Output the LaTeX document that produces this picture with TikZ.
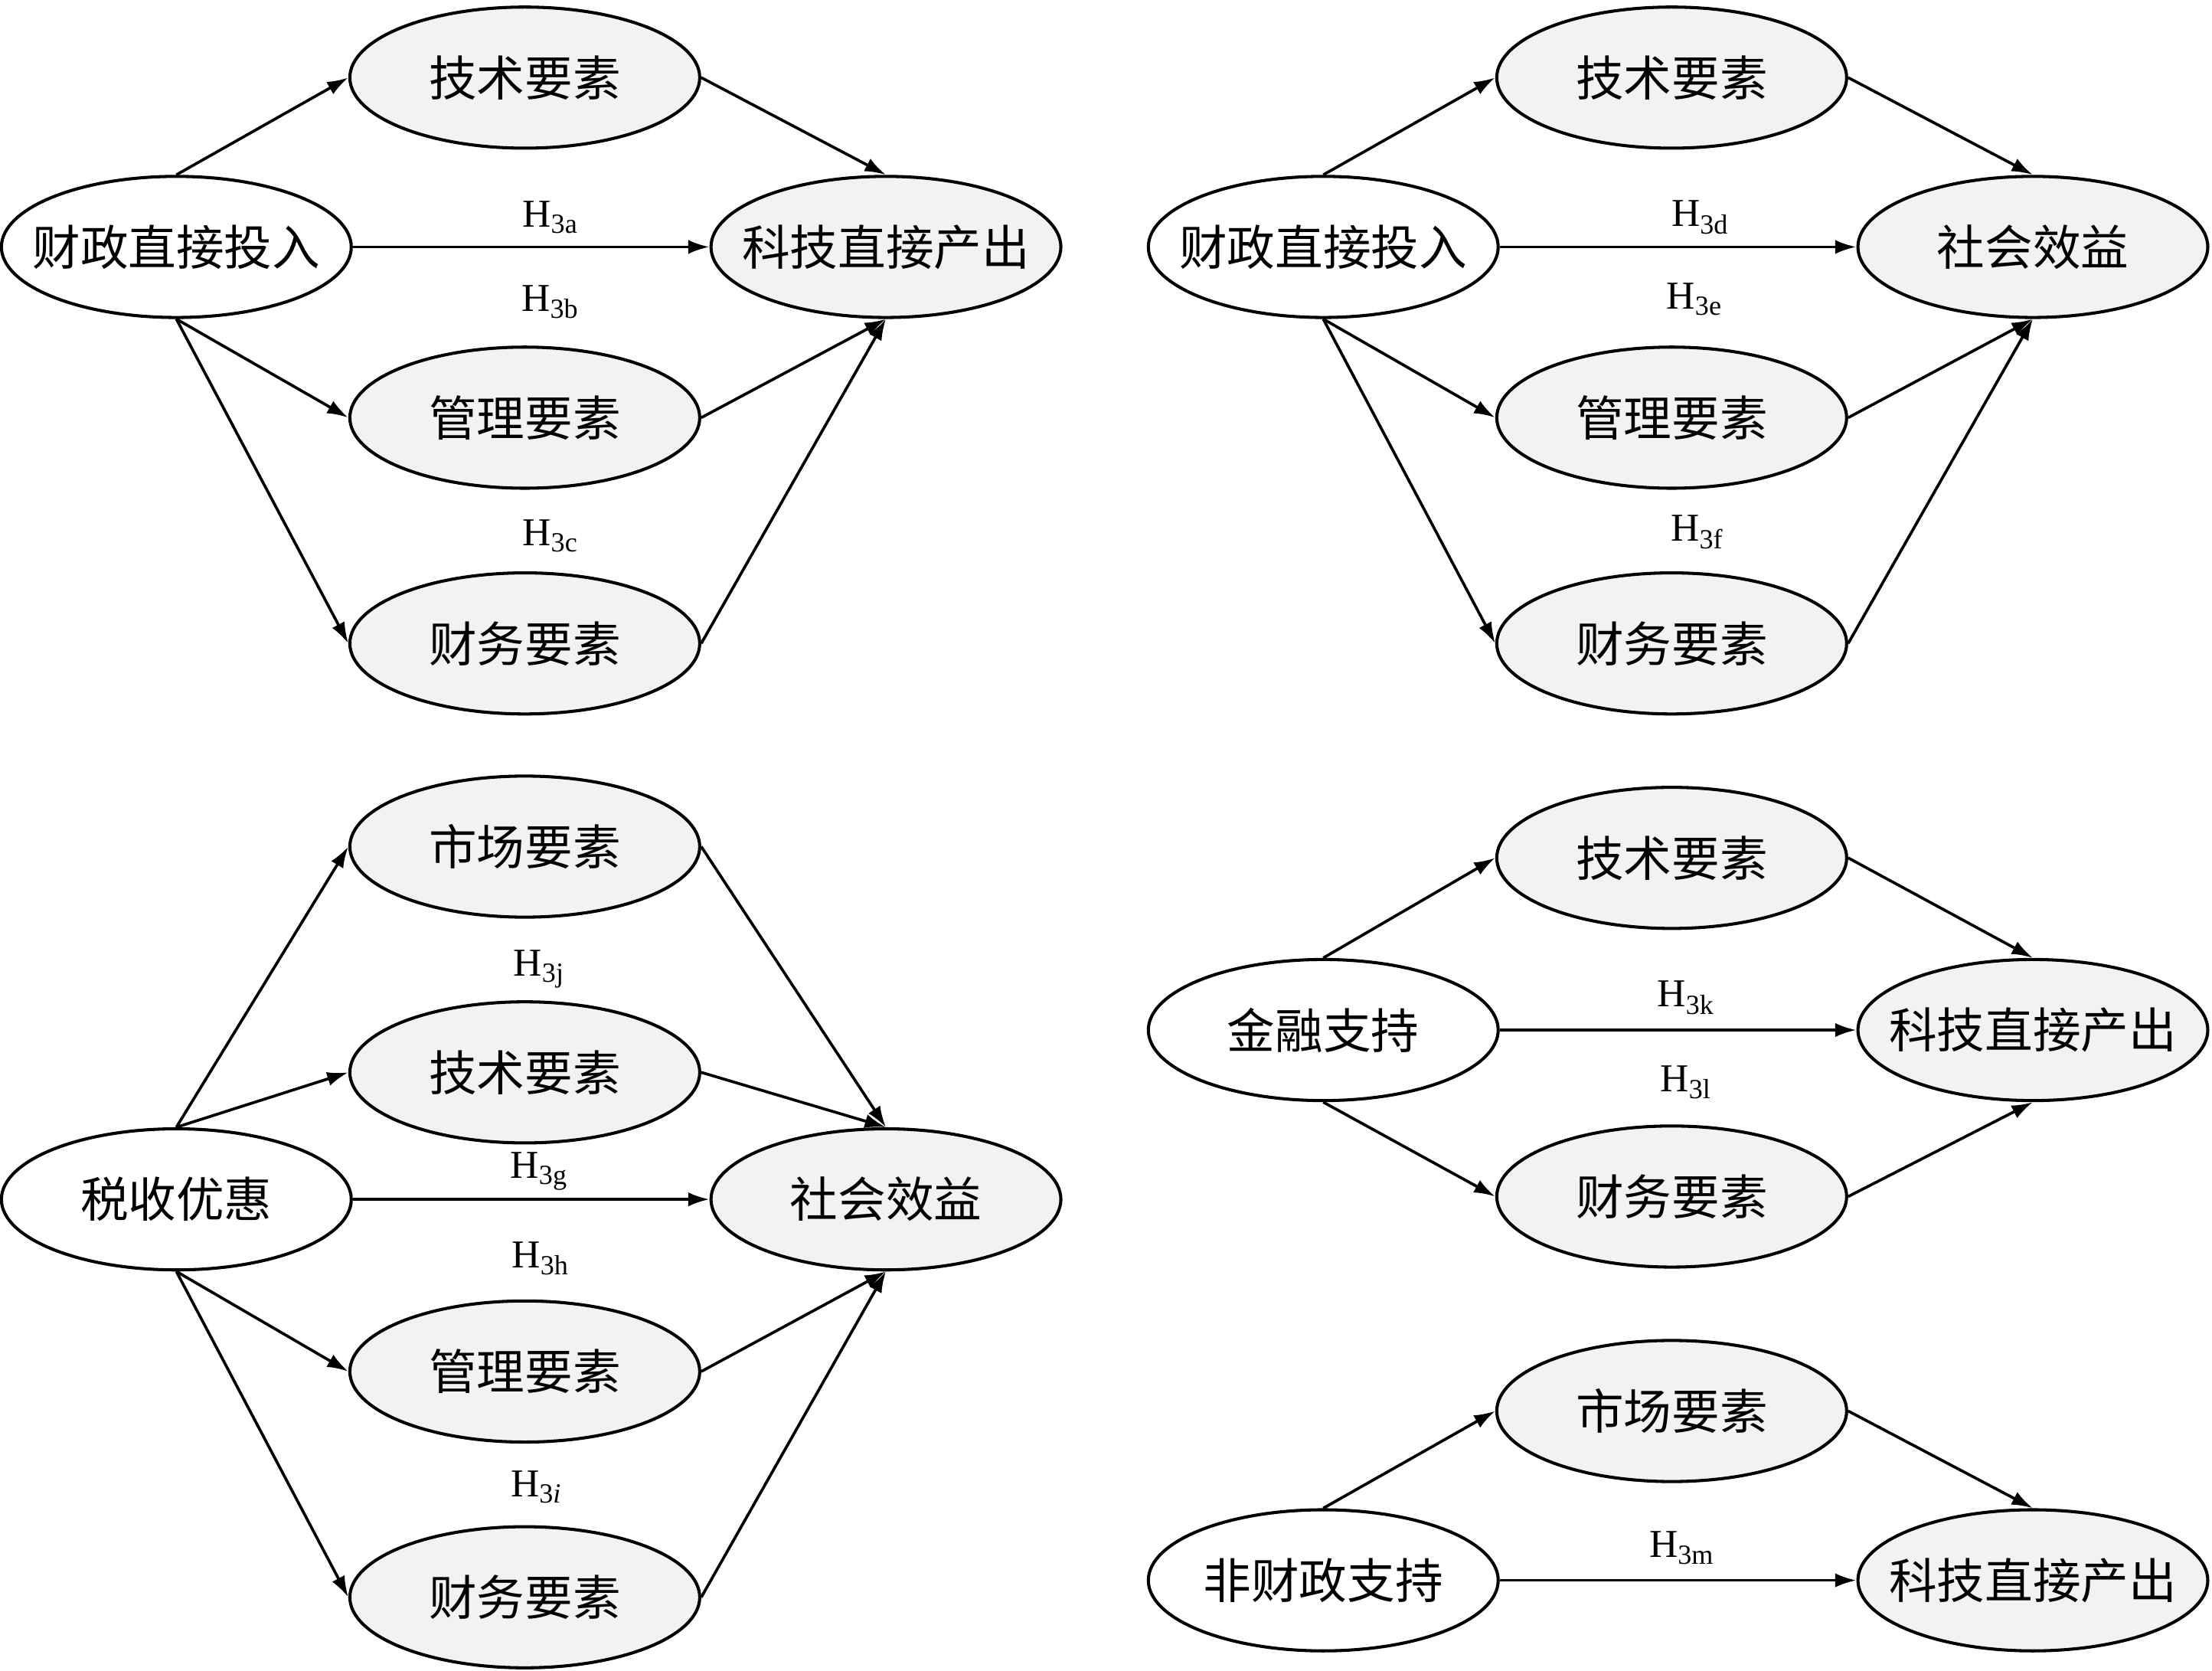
\documentclass[tikz,border=0pt]{standalone}
\usepackage{fontspec}
\setmainfont{Liberation Serif}
\newfontfamily\cjk{Noto Sans CJK SC}
\usetikzlibrary{shapes.geometric,arrows.meta}
\definecolor{nodegray}{HTML}{F2F2F2}
\newcommand{\zt}[1]{\makebox[0pt]{#1}}
\tikzset{
  el/.style={ellipse,draw,line width=2.2pt,minimum width=248pt,minimum height=100pt,inner sep=0pt,font=\cjk\fontsize{34}{38}\selectfont},
  src/.style={el,fill=white},
  tgt/.style={el,fill=nodegray},
  arr/.style={line width=2pt,-{Latex[length=15pt,width=10pt]}},
  hl/.style={font=\fontsize{28}{32}\selectfont,inner sep=0pt}
}
\begin{document}
\begin{tikzpicture}[x=1pt,y=-1pt]
\useasboundingbox (0,0) rectangle (1568,1184);
% Panel 1
\node[src] (a0) at (125,175) {\zt{财政直接投入}};
\node[tgt] (a1) at (372,55) {\zt{技术要素}};
\node[tgt] (a2) at (372,296) {\zt{管理要素}};
\node[tgt] (a3) at (372,456) {\zt{财务要素}};
\node[tgt] (a4) at (628,175) {\zt{科技直接产出}};
\draw[arr] (a0.north) -- (a1.west);
\draw[arr] (a0.east) -- (a4.west);
\draw[arr] (a0.south) -- (a2.west);
\draw[arr] (a0.south) -- (a3.west);
\draw[arr] (a1.east) -- (a4.north);
\draw[arr] (a2.east) -- (a4.south);
\draw[arr] (a3.east) -- (a4.south);
\node[hl] (la) at (390,154) {H\textsubscript{3a}};
\node[hl] (lb) at (390,214) {H\textsubscript{3b}};
\node[hl] (lc) at (390,380) {H\textsubscript{3c}};
% Panel 2
\node[src] (b0) at (938,175) {\zt{财政直接投入}};
\node[tgt] (b1) at (1185,55) {\zt{技术要素}};
\node[tgt] (b2) at (1185,296) {\zt{管理要素}};
\node[tgt] (b3) at (1185,456) {\zt{财务要素}};
\node[tgt] (b4) at (1441,175) {\zt{社会效益}};
\draw[arr] (b0.north) -- (b1.west);
\draw[arr] (b0.east) -- (b4.west);
\draw[arr] (b0.south) -- (b2.west);
\draw[arr] (b0.south) -- (b3.west);
\draw[arr] (b1.east) -- (b4.north);
\draw[arr] (b2.east) -- (b4.south);
\draw[arr] (b3.east) -- (b4.south);
\node[hl] (ld) at (1205,154) {H\textsubscript{3d}};
\node[hl] (le) at (1201,212) {H\textsubscript{3e}};
\node[hl] (lf) at (1203,377) {H\textsubscript{3f}};
% Panel 3
\node[src] (c0) at (125,850) {\zt{税收优惠}};
\node[tgt] (c1) at (372,600) {\zt{市场要素}};
\node[tgt] (c2) at (372,760) {\zt{技术要素}};
\node[tgt] (c3) at (372,972) {\zt{管理要素}};
\node[tgt] (c4) at (372,1132) {\zt{财务要素}};
\node[tgt] (c5) at (628,850) {\zt{社会效益}};
\draw[arr] (c0.north) -- (c1.west);
\draw[arr] (c0.north) -- (c2.west);
\draw[arr] (c0.east) -- (c5.west);
\draw[arr] (c0.south) -- (c3.west);
\draw[arr] (c0.south) -- (c4.west);
\draw[arr] (c1.east) -- (c5.north);
\draw[arr] (c2.east) -- (c5.north);
\draw[arr] (c3.east) -- (c5.south);
\draw[arr] (c4.east) -- (c5.south);
\node[hl] (lj) at (382,687) {H\textsubscript{3j}};
\node[hl] (lg) at (382,830) {H\textsubscript{3g}};
\node[hl] (lh) at (383,892) {H\textsubscript{3h}};
\node[hl] (li) at (380,1054) {H\textsubscript{3\textit{i}}};
% Panel 4
\node[src] (d0) at (938,730) {\zt{金融支持}};
\node[tgt] (d1) at (1185,608) {\zt{技术要素}};
\node[tgt] (d2) at (1185,848) {\zt{财务要素}};
\node[tgt] (d3) at (1441,730) {\zt{科技直接产出}};
\draw[arr] (d0.north) -- (d1.west);
\draw[arr] (d0.east) -- (d3.west);
\draw[arr] (d0.south) -- (d2.west);
\draw[arr] (d1.east) -- (d3.north);
\draw[arr] (d2.east) -- (d3.south);
\node[hl] (lk) at (1195,707) {H\textsubscript{3k}};
\node[hl] (ll) at (1195,767) {H\textsubscript{3l}};
% Panel 5
\node[src] (e0) at (938,1120) {\zt{非财政支持}};
\node[tgt] (e1) at (1185,1000) {\zt{市场要素}};
\node[tgt] (e2) at (1441,1120) {\zt{科技直接产出}};
\draw[arr] (e0.north) -- (e1.west);
\draw[arr] (e0.east) -- (e2.west);
\draw[arr] (e1.east) -- (e2.north);
\node[hl] (lm) at (1192,1097) {H\textsubscript{3m}};
\end{tikzpicture}
\end{document}
